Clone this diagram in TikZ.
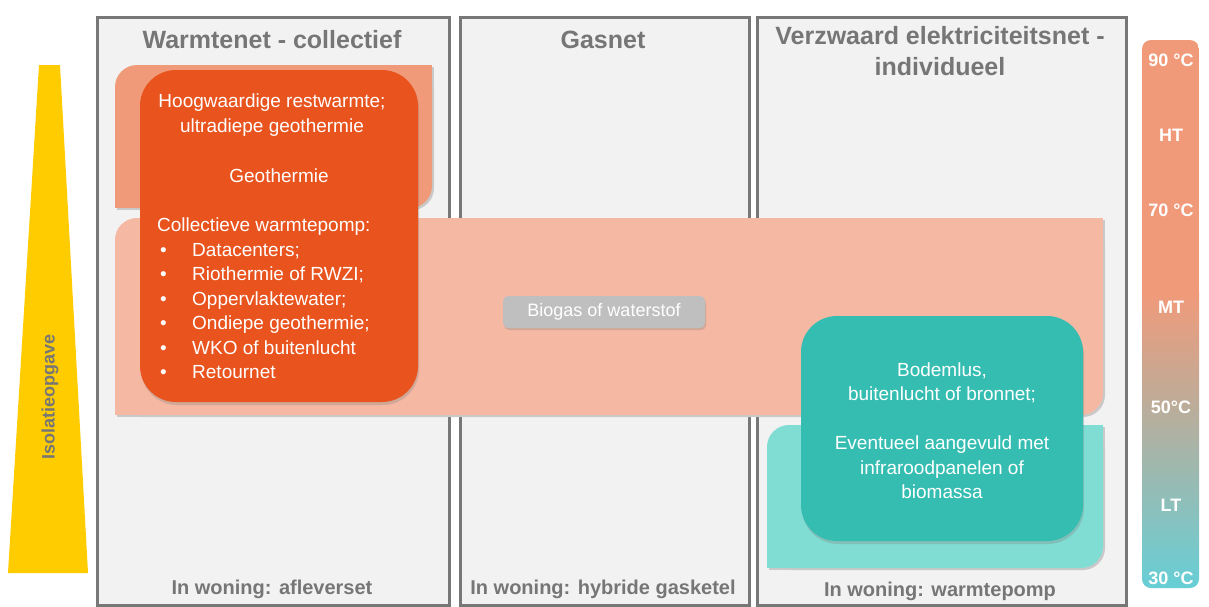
\documentclass[tikz,border=0pt]{standalone}
\usepackage{fontspec}
\setmainfont{Liberation Sans}
\usetikzlibrary{positioning,shadows}
\definecolor{panelgrey}{HTML}{F2F2F2}
\definecolor{framegrey}{HTML}{777777}
\definecolor{textgrey}{HTML}{767676}
\definecolor{htorange}{HTML}{F19A79}
\definecolor{mtsalmon}{HTML}{F5B8A2}
\definecolor{deeporange}{HTML}{E8531E}
\definecolor{ltteal}{HTML}{80DDD3}
\definecolor{deepteal}{HTML}{35BDB2}
\definecolor{biogrey}{HTML}{BFBFBF}
\definecolor{isoyellow}{HTML}{FFCC00}
\definecolor{scalebeige}{HTML}{BAAD9B}
\definecolor{scaleteal}{HTML}{66CFD6}
\definecolor{bandshadow}{HTML}{C9C9C9}
\tikzset{
  panel/.style={draw=framegrey,line width=2.5pt,fill=panelgrey,anchor=north west,
    inner sep=0pt,drop shadow={shadow xshift=2pt,shadow yshift=-2pt,opacity=0.3}},
  coltitle/.style={font=\fontsize{25}{31}\selectfont\bfseries,text=textgrey,align=center},
  woning/.style={font=\fontsize{20}{24}\selectfont\bfseries,text=textgrey},
  sourcebox/.style={rounded corners=36pt,inner sep=0pt,
    drop shadow={shadow xshift=1pt,shadow yshift=-3pt,opacity=0.3}},
  bodytext/.style={font=\fontsize{19}{24.5}\selectfont,text=white},
  templabel/.style={font=\fontsize{18}{22}\selectfont\bfseries,text=white}
}
% band with rounded top-left and bottom-right corner: x1,y1,x2,y2,colour
\newcommand{\tempband}[5]{%
  \foreach \dd/\col in {2/bandshadow,0/#5}{
    \begin{scope}[shift={(\dd,\dd)}]
      \fill[\col,rounded corners=22pt] (#1,#2) rectangle (#3,#4);
      \fill[\col] (#3-22,#2) rectangle (#3,#2+22);
      \fill[\col] (#1,#4-22) rectangle (#1+22,#4);
    \end{scope}
  }%
}
\newcommand{\listdot}{\makebox[35pt][l]{\hspace{3pt}•}}

\begin{document}
\begin{tikzpicture}[x=1pt,y=-1pt]
  \useasboundingbox (0,0) rectangle (1209,606);
  \fill[white] (0,0) rectangle (1209,606);
  % insulation wedge
  \fill[isoyellow] (39,65) -- (60,65) -- (88,573) -- (8,573) -- cycle;
  \node[rotate=90,font=\fontsize{18}{22}\selectfont\bfseries,text=textgrey] (iso) at (50,397) {Isolatieopgave};
  % columns
  \node[panel,minimum width=352pt,minimum height=588pt] (warmtenet) at (96,16) {};
  \node[panel,minimum width=289pt,minimum height=588pt] (gasnet) at (459,16) {};
  \node[panel,minimum width=369pt,minimum height=588pt] (elektra) at (756,16) {};
  \node[coltitle] (twarmte) at (272,40) {Warmtenet - collectief};
  \node[coltitle] (tgas) at (603,40) {Gasnet};
  \node[coltitle] (telektra) at (940,51.5) {Verzwaard elektriciteitsnet -\\individueel};
  \node[woning] (wwarmte) at (272,589) {In woning: afleverset};
  \node[woning] (wgas) at (603,589) {In woning: hybride gasketel};
  \node[woning] (welektra) at (940,591) {In woning: warmtepomp};
  % temperature bands
  \tempband{115}{65}{432}{208}{htorange}
  \tempband{115}{218}{1103}{415}{mtsalmon}
  \tempband{767}{425}{1103}{568}{ltteal}
  % sources
  \node[sourcebox,fill=deeporange,minimum width=278pt,minimum height=332pt] (collectief) at (279,236) {};
  \node[bodytext,align=center] (hoog) at (272,115) {Hoogwaardige restwarmte;\\ultradiepe geothermie};
  \node[bodytext] (geo) at (279,176) {Geothermie};
  \node[bodytext,align=left,anchor=north west,inner sep=0pt] (wp) at (157,218)
    {Collectieve warmtepomp:\\\listdot Datacenters;\\\listdot Riothermie of RWZI;\\
     \listdot Oppervlaktewater;\\\listdot Ondiepe geothermie;\\\listdot WKO of buitenlucht\\
     \listdot Retournet};
  \node[sourcebox,fill=deepteal,minimum width=282pt,minimum height=225pt] (individueel) at (942,428.5) {};
  \node[bodytext,align=center] (bodem) at (942,430.5)
    {Bodemlus,\\buitenlucht of bronnet;\\[24.5pt]Eventueel aangevuld met\\infraroodpanelen of\\biomassa};
  \node[fill=biogrey,rounded corners=5pt,minimum width=202pt,minimum height=32pt,
    font=\fontsize{18}{22}\selectfont,text=white,
    drop shadow={shadow xshift=1pt,shadow yshift=-2pt,opacity=0.3}] (biogas) at (604,312) {Biogas of waterstof};
  % temperature scale
  \begin{scope}
    \clip[rounded corners=9pt] (1142,40) rectangle (1199,588);
    \fill[htorange] (1142,40) rectangle (1199,292);
    \shade[top color=htorange,bottom color=scalebeige] (1142,291) rectangle (1199,410);
    \shade[top color=scalebeige,bottom color=scaleteal] (1142,409) rectangle (1199,588);
  \end{scope}
  \foreach \lab/\yy in {90 °C/60,HT/135,70 °C/210,MT/307,50°C/407,LT/505,30 °C/578}
    \node[templabel] (t\yy) at (1171,\yy) {\lab};
\end{tikzpicture}
\end{document}
